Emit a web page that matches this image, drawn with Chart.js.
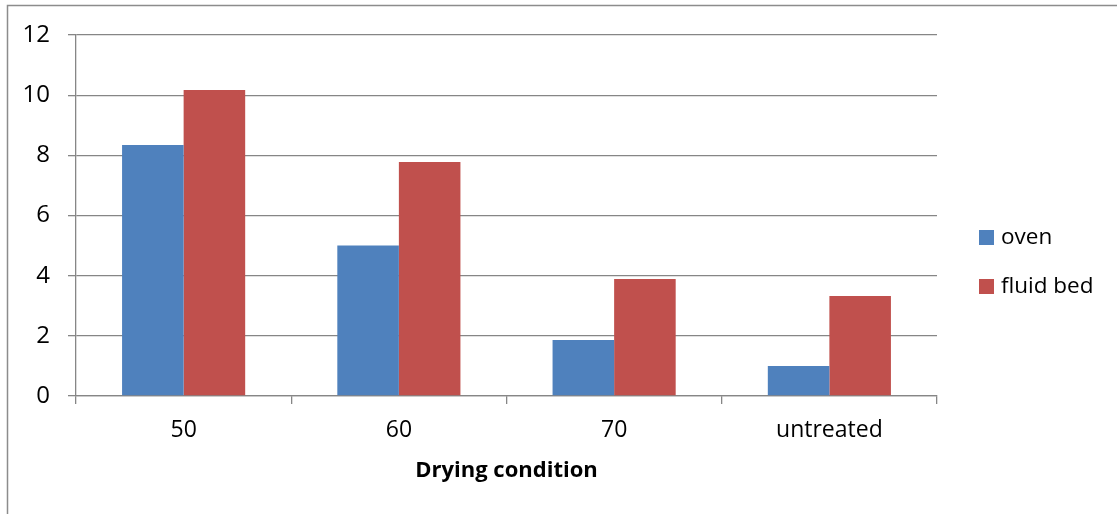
<!DOCTYPE html>
<html>
<head>
<meta charset="utf-8">
<title>Drying condition</title>
<script src="https://cdn.jsdelivr.net/npm/chart.js@4.4.1/dist/chart.umd.min.js"></script>
<style>
  html, body { margin: 0; padding: 0; background: #ffffff; overflow: hidden; }
  #wrap { position: relative; width: 1117px; height: 514px; }
</style>
</head>
<body>
<div id="wrap"><canvas id="chart" width="1117" height="514"></canvas></div>
<script>
// Drying conditions on the x axis
const categories = ['50', '60', '70', 'untreated'];
// Values per drying method
const ovenValues = [8.34, 5.0, 1.86, 1.0];
const fluidBedValues = [10.17, 7.78, 3.89, 3.32];
// Y axis tick values
const yTicks = [0, 2, 4, 6, 8, 10, 12];

const FONT = '"Open Sans", "DejaVu Sans", sans-serif';
const GRID = '#868686';

// Frame around the chart (top and left edges fall inside the canvas)
const framePlugin = {
  id: 'frame',
  beforeDraw(chart) {
    const ctx = chart.ctx;
    ctx.save();
    ctx.strokeStyle = '#8c8c8c';
    ctx.lineWidth = 1.5;
    ctx.beginPath();
    ctx.moveTo(7.5, chart.height + 5);
    ctx.lineTo(7.5, 5.5);
    ctx.lineTo(chart.width + 5, 5.5);
    ctx.stroke();
    ctx.restore();
  }
};

// Legend to the right of the plot area, built from the datasets
const sideLegend = {
  id: 'sideLegend',
  afterDraw(chart) {
    const ctx = chart.ctx;
    const area = chart.chartArea;
    const x = area.right + 42;
    const firstY = 237;
    const step = 49;
    ctx.save();
    ctx.font = '22.5px ' + FONT;
    ctx.textBaseline = 'middle';
    ctx.textAlign = 'left';
    chart.data.datasets.forEach((ds, i) => {
      const cy = firstY + i * step;
      ctx.fillStyle = ds.backgroundColor;
      ctx.fillRect(x, cy - 7, 15, 15);
      ctx.fillStyle = '#000000';
      ctx.fillText(ds.label, x + 22, cy + 1);
    });
    ctx.restore();
  }
};

new Chart(document.getElementById('chart'), {
  type: 'bar',
  data: {
    labels: categories,
    datasets: [
      { label: 'oven', data: ovenValues, backgroundColor: '#4F81BD' },
      { label: 'fluid bed', data: fluidBedValues, backgroundColor: '#C0504D' }
    ]
  },
  options: {
    responsive: false,
    animation: false,
    devicePixelRatio: 1,
    layout: { padding: { left: 0, top: 35, right: 180, bottom: 0 } },
    datasets: {
      bar: { categoryPercentage: 0.572, barPercentage: 1.0, borderWidth: 0 }
    },
    plugins: {
      legend: { display: false },
      tooltip: { enabled: false }
    },
    scales: {
      x: {
        grid: {
          offset: true,
          drawOnChartArea: false,
          drawTicks: true,
          tickLength: 8,
          color: GRID,
          lineWidth: 1.3
        },
        border: { display: true, color: GRID, width: 1.3 },
        ticks: {
          color: '#000000',
          padding: 13,
          font: { family: FONT, size: 23 }
        },
        title: {
          display: true,
          text: 'Drying condition',
          color: '#000000',
          font: { family: FONT, size: 22, weight: 'bold' },
          padding: { top: 0, bottom: 30 }
        },
        afterFit(scale) { scale.height = 118; }
      },
      y: {
        min: 0,
        max: 12,
        afterBuildTicks(scale) { scale.ticks = yTicks.map(v => ({ value: v })); },
        grid: {
          color: GRID,
          lineWidth: 1.3,
          drawTicks: true,
          tickLength: 8
        },
        border: { display: true, color: GRID, width: 1.3 },
        ticks: {
          color: '#000000',
          padding: 18,
          font: { family: FONT, size: 24 }
        },
        afterFit(scale) { scale.width = 76; }
      }
    }
  },
  plugins: [framePlugin, sideLegend]
});
</script>
</body>
</html>
